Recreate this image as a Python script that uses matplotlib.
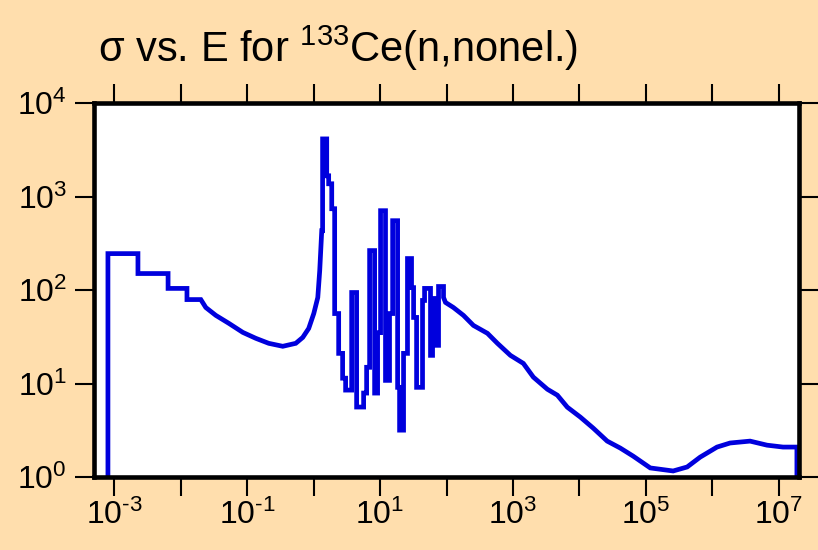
import matplotlib
matplotlib.use('Agg')
import matplotlib.pyplot as plt
from matplotlib.ticker import FixedLocator, FixedFormatter, NullLocator

plt.rcParams['font.family'] = ['Liberation Sans', 'DejaVu Sans']
plt.rcParams['mathtext.fontset'] = 'custom'
plt.rcParams['mathtext.rm'] = 'Liberation Sans'
plt.rcParams['mathtext.it'] = 'Liberation Sans:italic'
plt.rcParams['mathtext.bf'] = 'Liberation Sans:bold'

# cross section vs. incident energy (vertices of the stepped curve)
energy_eV = [
    8.1e-4, 8.1e-4, 2.29e-3, 2.29e-3, 6.5e-3, 6.5e-3, 1.25e-2, 1.25e-2,
    2.02e-2, 2.40e-2, 3.40e-2, 5.33e-2, 8.65e-2, 0.136, 0.212, 0.345,
    0.541, 0.689, 0.847, 1.01, 1.16, 1.24, 1.33,
    1.37, 1.37, 1.58, 1.58, 1.69, 1.69, 1.88, 1.88, 2.08, 2.08, 2.39, 2.39,
    2.74, 2.74, 3.04, 3.04, 3.75, 3.75, 4.45, 4.45, 5.67, 5.67, 6.29, 6.29,
    6.98, 6.98, 8.30, 8.30, 9.20, 9.20, 10.2, 10.2, 12.1, 12.1, 13.9, 13.9,
    15.5, 15.5, 18.4, 18.4, 19.7, 19.7, 22.6, 22.6, 25.9, 25.9, 29.8, 29.8,
    32.0, 32.0, 35.5, 35.5, 43.6, 43.6, 46.8, 46.8, 57.5, 57.5, 61.7, 61.7,
    70.8, 70.8, 75.9, 75.9, 90.2, 90.2,
    96.6, 127, 180, 254, 413, 583, 914, 1432, 2023, 3289, 4645, 6561,
    1.03e4, 1.61e4, 2.61e4, 4.10e4, 6.43e4, 1.16e5, 2.56e5, 4.16e5, 6.52e5,
    1.17e6, 1.84e6, 3.67e6, 6.61e6, 1.15e7, 1.86e7, 1.86e7,
]
sigma_b = [
    0.9, 245, 245, 150, 150, 104, 104, 79,
    79, 65, 53.5, 44, 35.2, 30.4, 26.9, 25.0,
    26.9, 31.1, 38.8, 56.1, 83.2, 161, 431,
    431, 4130, 4130, 1665, 1665, 1368, 1368, 740, 740, 56, 56, 21,
    21, 11.4, 11.4, 8.5, 8.5, 94, 94, 5.6, 5.6, 7.9, 7.9, 14.9,
    14.9, 264, 264, 7.9, 7.9, 35, 35, 705, 705, 10.8, 10.8, 56,
    56, 551, 551, 9.1, 9.1, 3.17, 3.17, 21, 21, 217, 217, 106,
    106, 50.9, 50.9, 9.1, 9.1, 77.3, 77.3, 104, 104, 20, 20, 81.2,
    81.2, 25.6, 25.6, 109, 109, 83.2,
    73.6, 65, 53.5, 41.8, 34.4, 26.9, 20.0, 16.4, 11.7, 8.68, 7.5, 5.58,
    4.37, 3.33, 2.42, 2.04, 1.67, 1.25, 1.16, 1.28, 1.63,
    2.09, 2.31, 2.42, 2.19, 2.09, 2.09, 0.9,
]

x_ticks = [1e-3, 1e-2, 1e-1, 1e0, 1e1, 1e2, 1e3, 1e4, 1e5, 1e6, 1e7]
x_tick_labels = [r'$\mathregular{10^{\text{-}3}}$', '', r'$\mathregular{10^{\text{-}1}}$', '',
                 r'$\mathregular{10^{1}}$', '', r'$\mathregular{10^{3}}$', '',
                 r'$\mathregular{10^{5}}$', '', r'$\mathregular{10^{7}}$']
y_ticks = [1e0, 1e1, 1e2, 1e3, 1e4]
y_tick_labels = [r'$\mathregular{10^{0}}$', r'$\mathregular{10^{1}}$',
                 r'$\mathregular{10^{2}}$', r'$\mathregular{10^{3}}$',
                 r'$\mathregular{10^{4}}$']
title_text = r'σ vs. E for $\mathregular{^{133}}$Ce(n,nonel.)'

bg = '#FFDEAD'
fig = plt.figure(figsize=(8.18, 5.5), dpi=100, facecolor=bg)
ax = fig.add_axes([94 / 818, 1 - 477 / 550, 705 / 818, 374 / 550])
ax.set_facecolor('white')

ax.plot(energy_eV, sigma_b, color='#0000DD', lw=3.4, solid_joinstyle='miter')

ax.set_xscale('log')
ax.set_yscale('log')
ax.set_xlim(5.0e-4, 2.0e7)
ax.set_ylim(1, 1e4)

ax.xaxis.set_major_locator(FixedLocator(x_ticks))
ax.xaxis.set_major_formatter(FixedFormatter(x_tick_labels))
ax.xaxis.set_minor_locator(NullLocator())
ax.yaxis.set_major_locator(FixedLocator(y_ticks))
ax.yaxis.set_major_formatter(FixedFormatter(y_tick_labels))
ax.yaxis.set_minor_locator(NullLocator())

ax.tick_params(which='major', direction='out', length=13.5, width=1.5,
               top=True, right=True, labelsize=23, colors='black')
ax.tick_params(axis='x', pad=3)
ax.tick_params(axis='y', pad=6)
for s in ax.spines.values():
    s.set_linewidth(3.3)
    s.set_color('black')

fig.text(98 / 818, 1 - 62 / 550, title_text, fontsize=30, ha='left',
         va='baseline')

fig.savefig('out.png', dpi=100, facecolor=bg)
